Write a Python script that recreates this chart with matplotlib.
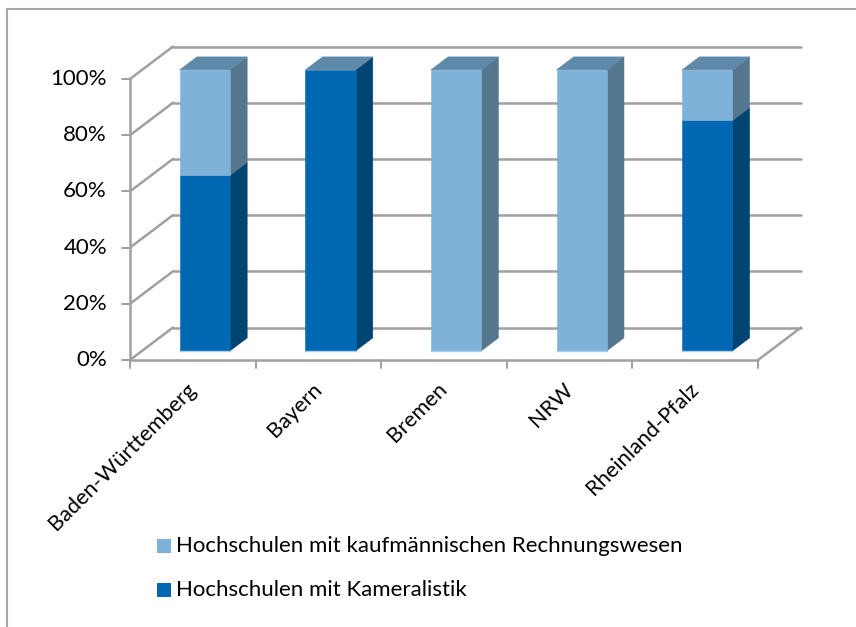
import matplotlib
matplotlib.use('Agg')
import matplotlib.pyplot as plt
from matplotlib.lines import Line2D
from matplotlib.patches import Polygon, Rectangle
from matplotlib.transforms import offset_copy

categories = ['Baden-Württemberg', 'Bayern', 'Bremen', 'NRW', 'Rheinland-Pfalz']
kameralistik = [62.5, 100, 0, 0, 82]
kaufmaennisch = [37.5, 0, 100, 100, 18]
label_kauf = 'Hochschulen mit kaufmännischen Rechnungswesen'
label_kam = 'Hochschulen mit Kameralistik'
y_ticks = [0, 20, 40, 60, 80, 100]

W, H = 856, 627
DEPTH_X, DEPTH_Y = 43, 32.5
GRID = '#a0a0a0'
FONT = 'Lato'
FS = 16

fig = plt.figure(figsize=(W / 100, H / 100), dpi=100)
fig.patch.set_facecolor('white')

# outer chart frame, only left and top are inside the picture
fig.add_artist(Line2D([7 / W, 7 / W, 1], [0, 1 - 8.5 / H, 1 - 8.5 / H], transform=fig.transFigure,
                      color='#a6a6a6', lw=1.5))

# front plane of the 3d box, in pixels
ax = fig.add_axes([130 / W, 1 - 360 / H, 628 / W, 281 / H])
ax.set_xlim(0, 5)
ax.set_ylim(0, 100)
ax.axis('off')


def at_depth(d):
    return offset_copy(ax.transData, fig, x=d * DEPTH_X, y=d * DEPTH_Y, units='dots')


front = at_depth(0)
back = at_depth(1)


def line_between(x0, y0, t0, x1, y1, t1, lw=1.8):
    p0 = t0.transform((x0, y0))
    p1 = t1.transform((x1, y1))
    ax.plot([p0[0], p1[0]], [p0[1], p1[1]], transform=None, color=GRID, lw=lw,
            clip_on=False, solid_capstyle='round', zorder=1)


# walls and gridlines
for t in y_ticks:
    line_between(0, t, front, 0, t, back)
    line_between(0, t, back, 5, t, back)
    line_between(0, t, front, -0.065, t, front, lw=1.4)
line_between(0, 0, front, 0, 100, front)
line_between(0, 0, front, 5, 0, front)
line_between(5, 0, front, 5, 0, back)
for i in range(6):
    line_between(i, 0, front, i, -3, front, lw=1.4)

BAR_D0 = 0.28
BAR_D1 = 0.68
BAR_W = 0.4
front_bar = at_depth(BAR_D0)
back_bar = at_depth(BAR_D1)


def poly(points, color, z):
    xy = [t.transform((x, y)) for x, y, t in points]
    ax.add_patch(Polygon(xy, closed=True, transform=None, facecolor=color, edgecolor=color,
                         linewidth=0.4, clip_on=False, zorder=z))


def segment(i, low, high, face, side):
    x0 = i + 0.5 - BAR_W / 2
    x1 = i + 0.5 + BAR_W / 2
    poly([(x1, low, front_bar), (x1, low, back_bar), (x1, high, back_bar), (x1, high, front_bar)], side, 3)
    poly([(x0, low, front_bar), (x1, low, front_bar), (x1, high, front_bar), (x0, high, front_bar)], face, 4)


for i in range(len(categories)):
    x0 = i + 0.5 - BAR_W / 2
    x1 = i + 0.5 + BAR_W / 2
    k = kameralistik[i]
    if k > 0:
        segment(i, 0, k, '#0068b2', '#004472')
    if kaufmaennisch[i] > 0:
        segment(i, k, k + kaufmaennisch[i], '#7fb2d9', '#55778e')
    poly([(x0, 100, front_bar), (x1, 100, front_bar), (x1, 100, back_bar), (x0, 100, back_bar)], '#5f89a8', 5)
    # pale rim along the foot of the bar
    ax.plot(*zip(front_bar.transform((x0, 0)), front_bar.transform((x1, 0))), transform=None,
            color='#a8d0ea', lw=1, clip_on=False, zorder=5)

for t in y_ticks:
    ax.annotate(f'{t}%', xy=(0, t), xytext=(-23, 0), textcoords='offset pixels', ha='right', va='center',
                fontsize=FS, family=FONT, color='black', annotation_clip=False)

for i, name in enumerate(categories):
    ax.annotate(name, xy=(i + 0.5, 0), xytext=(0, -26), textcoords='offset pixels', rotation=45,
                rotation_mode='anchor', ha='right', va='center', fontsize=15.7, family=FONT, color='black',
                annotation_clip=False)

# legend, kaufmaennisch first as in the picture
for y_px, color, text in [(546, '#7fb2d9', label_kauf), (590, '#0068b2', label_kam)]:
    fig.add_artist(Rectangle((157 / W, 1 - (y_px + 7) / H), 14 / W, 14 / H, transform=fig.transFigure,
                             facecolor=color, edgecolor='none'))
    fig.text(176 / W, 1 - y_px / H, text, ha='left', va='center', fontsize=FS, family=FONT, color='black')

fig.savefig('out.png', dpi=100)
